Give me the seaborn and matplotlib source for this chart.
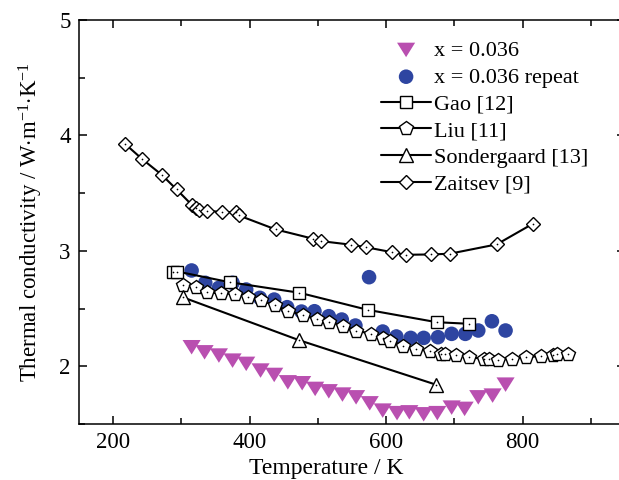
import numpy as np
import pandas as pd
import matplotlib
matplotlib.use("Agg")
import matplotlib.pyplot as plt
import seaborn as sns
from matplotlib.ticker import MultipleLocator

# ---------------- data ----------------
x036_T = [315, 334, 355, 375, 395, 416, 436, 456, 477, 496, 516, 536, 556, 576,
          595, 616, 634, 655, 675, 696, 715, 735, 756, 775]
x036_k = [2.165, 2.121, 2.093, 2.049, 2.021, 1.963, 1.925, 1.861, 1.853, 1.804,
          1.783, 1.755, 1.731, 1.679, 1.616, 1.594, 1.601, 1.584, 1.594, 1.642,
          1.631, 1.731, 1.746, 1.841]

rep_T = [315, 335, 355, 375, 395, 415, 436, 455, 476, 495, 516, 535, 555, 575,
         595, 615, 636, 655, 676, 696, 716, 735, 755, 775]
rep_k = [2.830, 2.723, 2.680, 2.723, 2.665, 2.593, 2.578, 2.512, 2.474, 2.477,
         2.434, 2.405, 2.353, 2.772, 2.301, 2.258, 2.246, 2.246, 2.252, 2.281,
         2.281, 2.310, 2.390, 2.310]

gao_T = [287, 294, 371, 473, 573, 674, 722]
gao_k = [2.821, 2.821, 2.728, 2.637, 2.489, 2.382, 2.368]

liu_T = [302, 322, 337, 358, 378, 398, 417, 437, 456, 478, 498, 517, 537, 556,
         578, 595, 605, 625, 644, 664, 681, 686, 703, 722, 744, 750, 764, 785,
         805, 827, 844, 850, 866]
liu_k = [2.700, 2.691, 2.642, 2.631, 2.628, 2.598, 2.570, 2.527, 2.483, 2.440,
         2.411, 2.382, 2.353, 2.310, 2.281, 2.249, 2.223, 2.180, 2.151, 2.130,
         2.108, 2.106, 2.099, 2.078, 2.064, 2.062, 2.058, 2.064, 2.078, 2.090,
         2.101, 2.106, 2.108]

son_T = [302, 472, 673]
son_k = [2.598, 2.227, 1.841]

zai_T = [217, 243, 271, 293, 316, 321, 326, 337, 359, 380, 384, 438, 493, 505,
         549, 570, 608, 629, 666, 693, 762, 815]
zai_k = [3.929, 3.793, 3.660, 3.532, 3.394, 3.367, 3.355, 3.349, 3.336, 3.336,
         3.307, 3.186, 3.105, 3.084, 3.053, 3.032, 2.989, 2.966, 2.969, 2.975,
         3.056, 3.235]

labels = ["x = 0.036", "x = 0.036 repeat", "Gao [12]", "Liu [11]",
          "Sondergaard [13]", "Zaitsev [9]"]

# ---------------- style ----------------
sns.set_style("ticks")
plt.rcParams["font.family"] = ["Liberation Serif", "DejaVu Serif"]
plt.rcParams["mathtext.fontset"] = "custom"
plt.rcParams["mathtext.rm"] = "Liberation Serif"
plt.rcParams["mathtext.it"] = "Liberation Serif:italic"
for key in ["text.color", "axes.labelcolor", "xtick.color", "ytick.color",
            "axes.edgecolor"]:
    plt.rcParams[key] = "black"

fig = plt.figure(figsize=(6.19, 4.8), dpi=100)
ax = fig.add_axes([79 / 619, 1 - 424 / 480, 546 / 619, 404 / 480])

magenta = "#B94FB0"
blue = "#2E45A1"
tri_down = [(-1, 0.8), (1, 0.8), (0, -0.8)]

sns.scatterplot(x=x036_T, y=x036_k, ax=ax, marker=tri_down, color=magenta,
                s=170, edgecolor="none", label=labels[0], legend=False)
sns.scatterplot(x=rep_T, y=rep_k, ax=ax, marker="o", color=blue,
                s=110, edgecolor="none", label=labels[1], legend=False)

line_kw = dict(color="black", lw=1.5, markerfacecolor="white",
               markeredgecolor="black", markeredgewidth=1.0,
               estimator=None, sort=False, legend=False)
sns.lineplot(x=gao_T, y=gao_k, ax=ax, marker="s", markersize=9, label=labels[2], **line_kw)
sns.lineplot(x=liu_T, y=liu_k, ax=ax, marker="p", markersize=10, label=labels[3], **line_kw)
sns.lineplot(x=son_T, y=son_k, ax=ax, marker="^", markersize=10, label=labels[4], **line_kw)
sns.lineplot(x=zai_T, y=zai_k, ax=ax, marker="D", markersize=7.5, label=labels[5], **line_kw)

# small centre dots of the open symbols
for T, k in [(gao_T, gao_k), (liu_T, liu_k), (son_T, son_k), (zai_T, zai_k)]:
    ax.scatter(T, k, s=1.5, color="black", zorder=5, linewidths=0)

ax.set_xlim(150, 950)
ax.set_ylim(1.5, 5)
ax.xaxis.set_major_locator(MultipleLocator(200))
ax.xaxis.set_minor_locator(MultipleLocator(100))
ax.yaxis.set_major_locator(MultipleLocator(1))
ax.yaxis.set_minor_locator(MultipleLocator(0.5))
ax.tick_params(which="both", direction="in", top=True, right=True,
               labelsize=16.5, width=1.1, pad=6)
ax.tick_params(which="major", length=6)
ax.tick_params(which="minor", length=4)
for sp in ax.spines.values():
    sp.set_linewidth(1.1)
    sp.set_visible(True)

ax.set_xlabel("Temperature / K", fontsize=17)
ax.xaxis.set_label_coords(0.452, -0.085)
ax.set_ylabel(r"Thermal conductivity / W$\cdot$m$^{-1}$$\cdot$K$^{-1}$",
              fontsize=16.5, labelpad=10)

h, l = ax.get_legend_handles_labels()
leg = ax.legend(h, l, loc="upper left", bbox_to_anchor=(0.537, 0.972),
                frameon=False, fontsize=16, handlelength=2.25,
                handletextpad=0.12, labelspacing=0.28, borderaxespad=0)

fig.savefig("out.png", dpi=100)
